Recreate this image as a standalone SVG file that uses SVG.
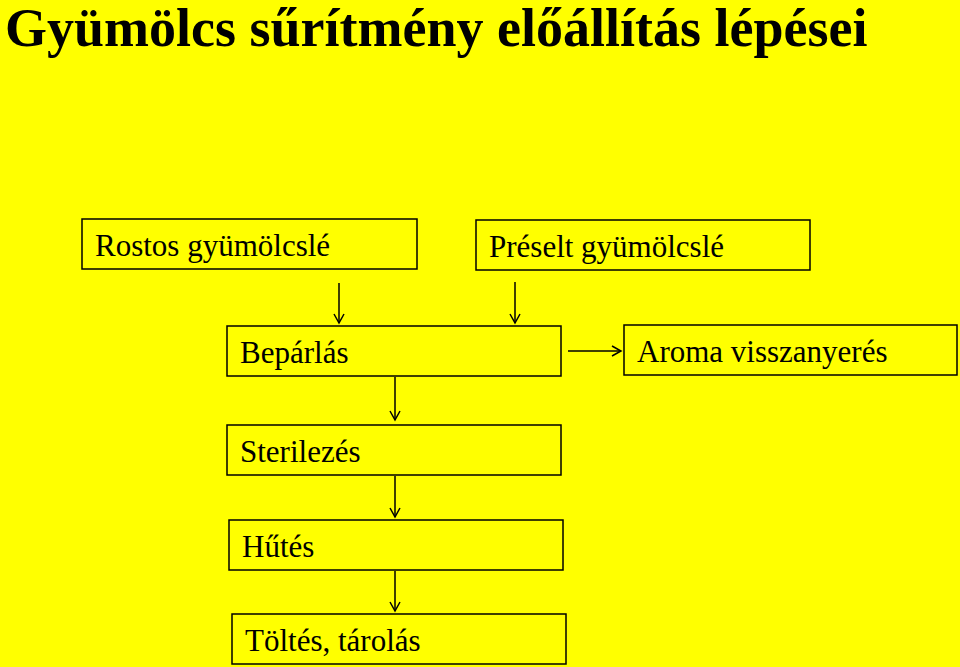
<svg xmlns="http://www.w3.org/2000/svg" width="960" height="667" viewBox="0 0 960 667">
<style>
.box{fill:none;stroke:#000;stroke-width:1.5}
.t{font-family:"Liberation Serif",serif;font-size:31px;fill:#000}
.c{stroke:#000;stroke-width:1.5;fill:none}
</style>
<defs><marker id="a" markerWidth="12" markerHeight="12" refX="10" refY="6" orient="auto" markerUnits="userSpaceOnUse"><path d="M1,1 L10,6 L1,11" fill="none" stroke="#000" stroke-width="1.5"/></marker></defs>
<rect width="960" height="667" fill="#ffff00"/>
<text x="5" y="46" font-family="Liberation Serif,serif" font-size="54" font-weight="bold">Gyümölcs sűrítmény előállítás lépései</text>
<g id="n1"><rect class="box" x="82" y="219" width="335" height="50"/><text class="t" x="95" y="256">Rostos gyümölcslé</text></g>
<g id="n2"><rect class="box" x="476" y="220" width="334" height="50"/><text class="t" x="489" y="257">Préselt gyümölcslé</text></g>
<g id="n3"><rect class="box" x="227" y="326" width="334" height="50"/><text class="t" x="240" y="363">Bepárlás</text></g>
<g id="n4"><rect class="box" x="624" y="325" width="333" height="50"/><text class="t" x="637" y="362">Aroma visszanyerés</text></g>
<g id="n5"><rect class="box" x="227" y="425" width="334" height="50"/><text class="t" x="240" y="462">Sterilezés</text></g>
<g id="n6"><rect class="box" x="229" y="520" width="334" height="50"/><text class="t" x="242" y="557">Hűtés</text></g>
<g id="n7"><rect class="box" x="232" y="614" width="334" height="50"/><text class="t" x="245" y="651">Töltés, tárolás</text></g>
<g id="connectors">
<path class="c" d="M339,283 V323" marker-end="url(#a)"/>
<path class="c" d="M515,282 V323" marker-end="url(#a)"/>
<path class="c" d="M568,351 H621" marker-end="url(#a)"/>
<path class="c" d="M395,377 V420" marker-end="url(#a)"/>
<path class="c" d="M395,476 V517" marker-end="url(#a)"/>
<path class="c" d="M395,571 V611" marker-end="url(#a)"/>
</g>
</svg>
